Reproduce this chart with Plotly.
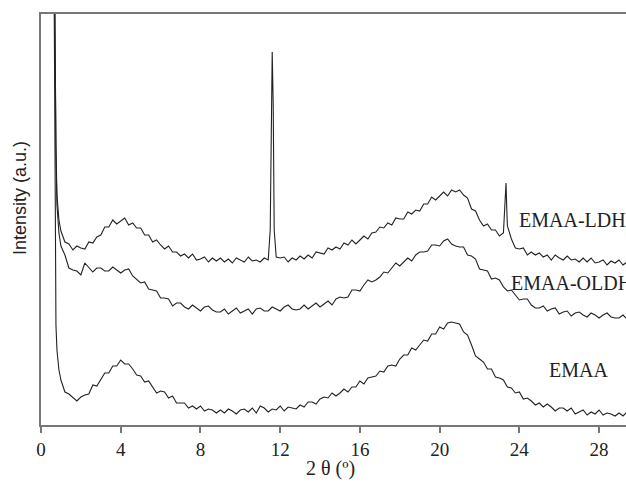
import plotly.graph_objects as go

# 2-theta sampling grid (degrees)
two_theta = [
    1.0, 1.2, 1.4, 1.6, 1.8, 2.0, 2.2, 2.4, 2.6, 2.8,
    3.0, 3.2, 3.4, 3.6, 3.8, 4.0, 4.2, 4.4, 4.6, 4.8,
    5.0, 5.2, 5.4, 5.6, 5.8, 6.0, 6.2, 6.4, 6.6, 6.8,
    7.0, 7.2, 7.4, 7.6, 7.8, 8.0, 8.2, 8.4, 8.6, 8.8,
    9.0, 9.2, 9.4, 9.6, 9.8, 10.0, 10.2, 10.4, 10.6, 10.8,
    11.0, 11.2, 11.4, 11.6, 11.8, 12.0, 12.2, 12.4, 12.6, 12.8,
    13.0, 13.2, 13.4, 13.6, 13.8, 14.0, 14.2, 14.4, 14.6, 14.8,
    15.0, 15.2, 15.4, 15.6, 15.8, 16.0, 16.2, 16.4, 16.6, 16.8,
    17.0, 17.2, 17.4, 17.6, 17.8, 18.0, 18.2, 18.4, 18.6, 18.8,
    19.0, 19.2, 19.4, 19.6, 19.8, 20.0, 20.2, 20.4, 20.6, 20.8,
    21.0, 21.2, 21.4, 21.6, 21.8, 22.0, 22.2, 22.4, 22.6, 22.8,
    23.0, 23.2, 23.4, 23.6, 23.8, 24.0, 24.2, 24.4, 24.6, 24.8,
    25.0, 25.2, 25.4, 25.6, 25.8, 26.0, 26.2, 26.4, 26.6, 26.8,
    27.0, 27.2, 27.4, 27.6, 27.8, 28.0, 28.2, 28.4, 28.6, 28.8,
    29.0, 29.2, 29.4,
]

# low-angle rise (shared start of all scans)
low_angle_x = [0.6, 0.65, 0.7, 0.75, 0.8, 0.9]
emaa_low = [650, 450, 200, 100, 75, 55]
oldh_low = [650, 520, 370, 270, 220, 192]
ldh_low = [650, 520, 380, 280, 230, 205]

# intensities (a.u.) on the grid
emaa = [
    45, 33, 31, 27, 24, 28, 30, 31, 40, 39, 45, 52, 52, 59, 59, 65, 61, 61, 56, 50,
    49, 43, 44, 38, 32, 34, 33, 27, 29, 22, 22, 22, 17, 19, 16, 19, 14, 16, 15, 12,
    15, 12, 16, 14, 11, 15, 16, 13, 17, 12, 19, 17, 13, 16, 15, 19, 14, 18, 17, 16,
    20, 18, 23, 23, 21, 26, 28, 27, 32, 29, 32, 36, 33, 38, 38, 44, 41, 47, 48, 49,
    54, 53, 59, 60, 59, 66, 70, 70, 77, 75, 80, 85, 84, 91, 91, 98, 96, 102, 103, 102,
    101, 93, 90, 80, 69, 66, 63, 56, 56, 48, 47, 45, 38, 37, 32, 33, 26, 27, 24, 20,
    22, 18, 21, 18, 14, 17, 17, 14, 17, 11, 13, 15, 10, 13, 11, 15, 10, 12, 11, 9,
    12, 9, 13,
]
emaa_oldh = [
    179, 170, 157, 155, 154, 150, 162, 157, 153, 157, 157, 154, 154, 158, 155, 152, 155, 156, 149, 145,
    142, 143, 136, 135, 134, 127, 127, 126, 119, 122, 122, 118, 116, 120, 117, 114, 118, 119, 115, 113,
    113, 116, 111, 114, 117, 112, 114, 116, 111, 116, 117, 114, 114, 118, 116, 114, 118, 120, 116, 115,
    116, 120, 116, 119, 122, 118, 121, 124, 120, 126, 128, 127, 128, 135, 135, 134, 140, 145, 143, 145,
    148, 153, 152, 157, 162, 159, 163, 167, 164, 170, 173, 173, 174, 180, 180, 179, 184, 186, 181, 179,
    178, 178, 170, 169, 166, 156, 155, 154, 146, 147, 145, 138, 134, 135, 130, 125, 126, 126, 120, 117,
    117, 119, 114, 116, 117, 111, 113, 114, 109, 112, 113, 110, 108, 112, 110, 107, 110, 112, 108, 107,
    107, 110, 106,
]
emaa_ldh = [
    194, 183, 181, 175, 179, 177, 176, 183, 182, 188, 190, 198, 198, 205, 201, 204, 207, 200, 202, 197,
    197, 190, 190, 183, 185, 180, 176, 179, 173, 173, 169, 171, 167, 171, 165, 166, 168, 163, 167, 164,
    167, 163, 166, 162, 167, 165, 163, 168, 164, 165, 163, 167, 165, 373, 168, 167, 168, 163, 167, 165,
    169, 166, 170, 167, 173, 172, 171, 177, 175, 178, 176, 182, 180, 185, 181, 185, 189, 186, 192, 193,
    198, 197, 202, 200, 207, 206, 206, 213, 211, 215, 214, 221, 221, 228, 225, 229, 233, 229, 235, 233,
    235, 230, 227, 216, 214, 205, 199, 201, 195, 195, 189, 192, 199, 186, 177, 176, 177, 170, 173, 170,
    172, 168, 170, 165, 170, 167, 165, 169, 165, 166, 163, 167, 163, 167, 162, 163, 165, 160, 164, 162,
    165, 160, 163,
]
# sharp LDH reflections (extra fine-step points)
ldh_peak_x = [11.5, 11.55, 11.65, 11.7, 23.27, 23.33, 23.37]
ldh_peak_y = [195, 320, 320, 195, 215, 242, 215]

labels = ["EMAA-LDH", "EMAA-OLDH", "EMAA"]
label_x = [23.88, 23.48, 25.39]
label_y = [205, 142, 55]

x_ticks = [0, 4, 8, 12, 16, 20, 24, 28]


def merged(*pairs):
    pts = []
    for xs, ys in pairs:
        pts.extend(zip(xs, ys))
    pts.sort(key=lambda p: p[0])
    return [p[0] for p in pts], [p[1] for p in pts]


series = [
    merged((low_angle_x, ldh_low), (two_theta, emaa_ldh), (ldh_peak_x, ldh_peak_y)),
    merged((low_angle_x, oldh_low), (two_theta, emaa_oldh)),
    merged((low_angle_x, emaa_low), (two_theta, emaa)),
]

fig = go.Figure()
for (xs, ys), name in zip(series, labels):
    fig.add_trace(go.Scatter(x=xs, y=ys, mode="lines", name=name,
                             line=dict(color="#222222", width=1.1),
                             showlegend=False, hoverinfo="skip"))

for t, lx, ly in zip(labels, label_x, label_y):
    fig.add_annotation(x=lx, y=ly, xref="x", yref="y", text=t, showarrow=False,
                       xanchor="left", yanchor="middle",
                       font=dict(family="Liberation Serif", size=20, color="#222"))

# plot area occupies page pixels x 41..626, y 14..425
W, H = 626, 487
ML, MT, MB = 41, 14, 62
PW, PH = W - ML, H - MT - MB

fig.add_annotation(xref="paper", yref="paper",
                   x=(330 - ML) / PW, y=-(468 - 425) / PH,
                   text="2 θ (º)", showarrow=False,
                   xanchor="center", yanchor="middle",
                   font=dict(family="Liberation Serif", size=20, color="#222"))
fig.add_annotation(xref="paper", yref="paper",
                   x=(20 - ML) / PW, y=(425 - 198) / PH,
                   text="Intensity (a.u.)", showarrow=False, textangle=-90,
                   xanchor="center", yanchor="middle",
                   font=dict(family="Liberation Sans", size=18, color="#222"))

fig.update_layout(
    width=W, height=H,
    margin=dict(l=ML, r=0, t=MT, b=MB),
    paper_bgcolor="white", plot_bgcolor="white",
    xaxis=dict(range=[0, 29.35], tickvals=x_ticks, ticktext=[str(v) for v in x_ticks],
               ticks="outside", ticklen=6, tickwidth=1.5, tickcolor="#777",
               showline=True, linecolor="#777", linewidth=1.5, mirror=True,
               showgrid=False, zeroline=False,
               tickfont=dict(family="Liberation Serif", size=19, color="#222")),
    yaxis=dict(range=[0, 411], showticklabels=False, ticks="",
               showline=True, linecolor="#777", linewidth=1.5,
               showgrid=False, zeroline=False),
)

fig.write_html(
    "out.html",
    config={"displayModeBar": False},
    post_script="document.body.style.margin='0';document.body.style.overflow='hidden';",
)
